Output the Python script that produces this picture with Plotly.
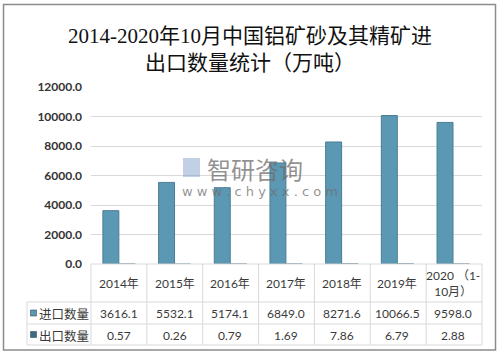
import plotly.graph_objects as go

categories = ["2014年", "2015年", "2016年", "2017年", "2018年", "2019年", "2020（1-10月）"]
import_values = [3616.1, 5532.1, 5174.1, 6849.0, 8271.6, 10066.5, 9598.0]
export_values = [0.57, 0.26, 0.79, 1.69, 7.86, 6.79, 2.88]
import_labels = ["3616.1", "5532.1", "5174.1", "6849.0", "8271.6", "10066.5", "9598.0"]
export_labels = ["0.57", "0.26", "0.79", "1.69", "7.86", "6.79", "2.88"]
series_names = ["进口数量", "出口数量"]
y_ticks = [0, 2000, 4000, 6000, 8000, 10000, 12000]
title_text = "2014-2020年10月中国铝矿砂及其精矿进<br>出口数量统计（万吨）"

W, H = 500, 356
L, R, T, B = 91, 18, 87, 92
ph = H - T - B
pw = W - L - R

def py(pix):
    return (H - B - pix) / ph

def px(pix):
    return (pix - L) / pw

imp_color = "#5b98b4"
exp_color = "#3f6a80"
grid = "#d9d9d9"
txt = "#3a3a3a"
font_cjk = "Lato, Noto Sans CJK SC, sans-serif"

fig = go.Figure()
fig.add_trace(go.Bar(x=categories, y=import_values, name=series_names[0],
                     marker=dict(color=imp_color, line=dict(color="#4a7d94", width=1))))
fig.add_trace(go.Bar(x=categories, y=export_values, name=series_names[1],
                     marker=dict(color=exp_color, line=dict(color=exp_color, width=1.2))))

shapes = []
n = len(categories)
# outer border
shapes.append(dict(type="rect", xref="paper", yref="paper", x0=px(3.5), x1=px(495.5),
                   y0=py(350), y1=py(4.5), line=dict(color="#8c8c8c", width=1.5)))
# table horizontal lines
for yy in [302, 324, 345]:
    shapes.append(dict(type="line", xref="paper", yref="paper", x0=px(27), x1=1,
                       y0=py(yy), y1=py(yy), line=dict(color=grid, width=1)))
shapes.append(dict(type="line", xref="paper", yref="paper", x0=0, x1=1,
                   y0=0, y1=0, line=dict(color=grid, width=1)))
# table vertical lines
shapes.append(dict(type="line", xref="paper", yref="paper", x0=px(27), x1=px(27),
                   y0=py(302), y1=py(345), line=dict(color=grid, width=1)))
for i in range(n + 1):
    xx = i / n
    shapes.append(dict(type="line", xref="paper", yref="paper", x0=xx, x1=xx,
                       y0=0, y1=py(345), line=dict(color=grid, width=1)))
# legend keys
for yy, col in [(313, imp_color), (334.5, exp_color)]:
    shapes.append(dict(type="rect", xref="paper", yref="paper", x0=px(30.5), x1=px(36.5),
                       y0=py(yy + 3), y1=py(yy - 3), fillcolor=col,
                       line=dict(color="#2f5060", width=0.6)))

annotations = []
for i, c in enumerate(categories):
    label = c.replace("（1-", " （1-<br>")
    annotations.append(dict(x=c, xref="x", y=py(283), yref="paper", text=label,
                            xanchor="center", yanchor="middle",
                            showarrow=False, font=dict(size=12, color=txt, family=font_cjk)))
    annotations.append(dict(x=c, xref="x", y=py(313.5), yref="paper", text=import_labels[i],
                            xanchor="center", yanchor="middle",
                            showarrow=False, font=dict(size=12, color=txt, family=font_cjk)))
    annotations.append(dict(x=c, xref="x", y=py(335), yref="paper", text=export_labels[i],
                            xanchor="center", yanchor="middle",
                            showarrow=False, font=dict(size=12, color=txt, family=font_cjk)))
for yy, name in [(313.5, series_names[0]), (335, series_names[1])]:
    annotations.append(dict(x=px(37), xref="paper", y=py(yy), yref="paper", text=name,
                            xanchor="left", yanchor="middle", showarrow=False,
                            font=dict(size=12.5, color=txt, family="Noto Sans CJK SC")))
# watermark
annotations.append(dict(x=px(205), xref="paper", y=py(168), yref="paper", text="智研咨询",
                        xanchor="left", yanchor="middle", showarrow=False,
                        font=dict(size=24, color="rgba(110,110,110,0.75)", family="Noto Sans CJK SC")))
annotations.append(dict(x=px(180), xref="paper", y=py(191), yref="paper", text="w w w . c h y x x . c o m",
                        xanchor="left", yanchor="middle", showarrow=False,
                        font=dict(size=13, color="rgba(110,110,110,0.75)", family="DejaVu Sans")))
shapes.append(dict(type="rect", xref="paper", yref="paper", x0=px(183), x1=px(200),
                   y0=py(177), y1=py(158), fillcolor="rgba(120,150,200,0.45)", line=dict(width=0)))

fig.update_layout(
    width=W, height=H,
    margin=dict(l=L, r=R, t=T, b=B),
    paper_bgcolor="white", plot_bgcolor="white",
    barmode="group", bargap=0.427, bargroupgap=0,
    showlegend=False,
    title=dict(text=title_text, x=0.5, xanchor="center", xref="container",
               y=1 - 43 / H, yanchor="middle",
               font=dict(size=21, color="#111", family="Liberation Serif, Noto Sans CJK SC, serif")),
    xaxis=dict(showticklabels=False, showgrid=False, zeroline=False, showline=False,
               ticks=""),
    yaxis=dict(range=[0, 12000], tickvals=y_ticks, tickformat=".1f",
               showgrid=True, gridcolor=grid, gridwidth=1, zeroline=False,
               ticks="", ticklen=0, showline=False, ticklabelstandoff=8,
               tickfont=dict(size=12, color="#333", family="Lato", weight="bold"),
               ),
    shapes=shapes, annotations=annotations,
)
fig.write_html("out.html", config={"displayModeBar": False},
               post_script="document.body.style.margin='0';document.body.style.overflow='hidden';")
